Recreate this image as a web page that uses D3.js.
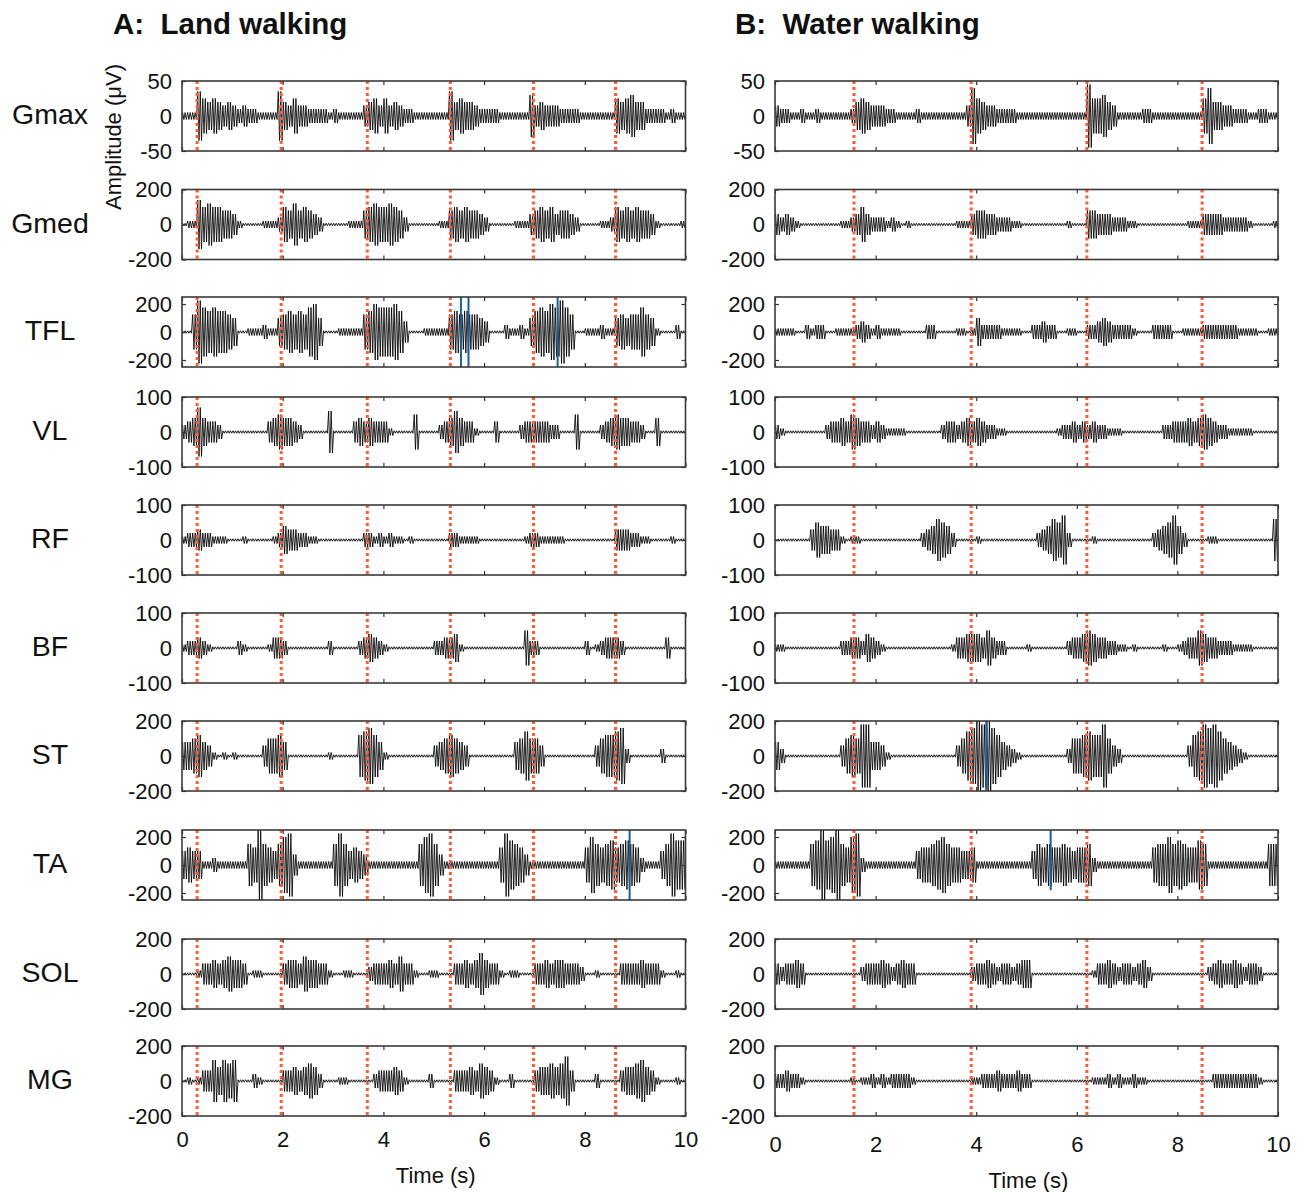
<!DOCTYPE html>
<html>
<head>
<meta charset="utf-8">
<script src="https://cdn.jsdelivr.net/npm/d3@7"></script>
<style>
body { margin: 0; background: #fff; }
text { font-family: "Liberation Sans", Arial, Helvetica, sans-serif; fill: #111; }
</style>
</head>
<body>
<svg id="chart" width="1307" height="1192"></svg>
<script>
// muscles, top to bottom
var muscles = ["Gmax", "Gmed", "TFL", "VL", "RF", "BF", "ST", "TA", "SOL", "MG"];
// y axis limit (uV) of each panel, and its tick labels
var limits = [50, 200, 250, 100, 100, 100, 200, 250, 200, 200];
var yTicks = [[-50, 0, 50], [-200, 0, 200], [-200, 0, 200], [-100, 0, 100], [-100, 0, 100],
              [-100, 0, 100], [-200, 0, 200], [-200, 0, 200], [-200, 0, 200], [-200, 0, 200]];
var xTicks = [0, 2, 4, 6, 8, 10];

// heel strikes (s), orange dotted lines
var landStrikes = [0.30, 1.97, 3.68, 5.33, 6.98, 8.61];
var waterStrikes = [1.57, 3.90, 6.20, 8.49];

// EMG envelope: one char per 0.1 s, value = tenths of the axis limit ("x" = full)
var landEMG = [
  "1117545434 3232211117 4353322221 2111113453 5343221111 1117454432 2221111116 3433322221 1111115456 4422221211",
  "0117565544 3100001112 5464543200 0001114565 5654200000 0114545443 2000001113 4545344320 0001125454 5443100001",
  "0059767665 4001112114 5656578400 0111115687 7786300011 1115656554 3000211214 6768797500 1112114545 5754100020",
  "2347433200 0000000345 4432000006 0000343433 3100005000 0234643310 0030000233 3332200050 0002345443 3200400000",
  "1223221110 0010000012 4332211000 0000002212 1211010000 0002211110 0000000012 2111110000 0000003332 2110000100",
  "1223210000 0210000133 2000000002 0000023432 1000000000 2233410000 0000000052 2000000000 2012333200 0000003000",
  "4456431010 1000003556 4000000001 0000067864 1000000000 3456543000 0000004575 5300000000 0035667820 0000020000",
  "4544112111 11165x6546 8931111111 6964543111 1111111689 6311111111 1115976531 1111111111 5865675676 5211146977",
  "0001334345 4430110000 3443544331 0011000233 3435331001 1000334346 4331011000 3343443332 0010000333 3433310010",
  "0101336465 6000210000 3343454200 0110000023 3343100002 0000333435 4310020000 3445457300 0020000344 5643100010"
];
var waterEMG = [
  "3221121121 1111124543 3322111121 1111111138 5433222211 1111111111 1195564311 1112211111 1111158443 3222112211",
  "3232100000 0001123532 2212101000 0000001113 4433222110 0000000010 0044333222 1100000000 0011133332 2222100001",
  "1111002122 0011112321 2111100000 2200001101 4222211110 0223220011 0022343222 2100022220 0111122222 2211110011",
  "2100000000 2334354332 3211110000 0002332343 4322110000 0000001223 2323221110 0000000223 3343454322 1111100000",
  "0000000354 4331011000 0000000002 3465420000 1000000000 0023465720 0001000000 0000023457 4200001100 0000000006",
  "1100000000 0002233243 2100000000 0000013344 4353220000 1000000023 3454332211 0100000100 1233543322 2111100000",
  "4200000000 0003565994 4310000000 0000003578 x9x8643210 0000000025 5676695320 0000000000 0036798975 4321000000",
  "111111167x 78x6589211 1111111145 5678655445 1111111111 1465655654 5562111111 1111156686 7655761111 1111111166",
  "3233430000 0000000233 3432343300 0000000002 3343233234 4000000000 0001334323 3234200000 0000002343 3432332000",
  "2232210000 0000010112 1212222100 0000000001 1222322232 2000000000 0001112121 1211000000 0000000222 2222221000"
];

// blue artefact spikes: muscle index, time (s), low and high (uV)
var landSpikes = [
  {m: 2, t: 5.54, lo: -300, hi: 300},
  {m: 2, t: 5.69, lo: -300, hi: 300},
  {m: 2, t: 7.46, lo: -300, hi: 300},
  {m: 7, t: 8.89, lo: -300, hi: 300}
];
var waterSpikes = [
  {m: 6, t: 4.20, lo: -250, hi: 250},
  {m: 7, t: 5.48, lo: -180, hi: 300}
];

var svg = d3.select("#chart");

var colLeft = [182, 775],
    colWidth = [503.5, 503],
    rowTop = [81, 189.5, 297, 397, 505, 613, 721, 830, 939, 1046],
    panelH = 70,
    perBin = 4;   // zigzag vertices drawn per envelope sample

var conditions = [
  {title: "A:  Land walking", titleX: 113, emg: landEMG, strikes: landStrikes, spikes: landSpikes, xPad: 15, xLabelY: 1183},
  {title: "B:  Water walking", titleX: 735, emg: waterEMG, strikes: waterStrikes, spikes: waterSpikes, xPad: 20, xLabelY: 1188}
];

function parseEnv(s) {
  return s.replace(/\s/g, "").split("").map(function(ch) { return ch === "x" ? 10 : +ch; });
}

var defs = svg.append("defs");

conditions.forEach(function(cond, c) {
  var x = d3.scaleLinear().domain([0, 10]).range([colLeft[c], colLeft[c] + colWidth[c]]);

  svg.append("text")
      .attr("x", cond.titleX)
      .attr("y", 34)
      .style("font-size", "29.5px")
      .style("font-weight", "bold")
      .style("white-space", "pre")
      .text(cond.title);

  muscles.forEach(function(name, i) {
    var lim = limits[i],
        top = rowTop[i];
    var y = d3.scaleLinear().domain([-lim, lim]).range([top + panelH, top]);

    var clipId = "clip" + c + "_" + i;
    defs.append("clipPath").attr("id", clipId)
      .append("rect")
        .attr("x", x(0)).attr("y", top)
        .attr("width", colWidth[c]).attr("height", panelH);

    var g = svg.append("g").attr("class", "panel");

    // EMG trace drawn as a dense min/max zigzag of the envelope
    var env = parseEnv(cond.emg[i]),
        dt = 10 / env.length,
        pts = [];
    env.forEach(function(d, k) {
      var a = Math.max(d / 10, 0.035) * lim;
      for (var j = 0; j < perBin; j++) {
        pts.push([k * dt + dt * (j + 0.5) / perBin, j % 2 ? -a : a]);
      }
    });

    var line = d3.line()
        .x(function(d) { return x(d[0]); })
        .y(function(d) { return y(d[1]); });

    g.append("path")
        .datum(pts)
        .attr("clip-path", "url(#" + clipId + ")")
        .attr("fill", "none")
        .attr("stroke", "#000")
        .attr("stroke-width", 0.85)
        .attr("d", line);

    // blue spikes
    g.selectAll(".spike")
      .data(cond.spikes.filter(function(s) { return s.m === i; }))
      .enter().append("line")
        .attr("clip-path", "url(#" + clipId + ")")
        .attr("x1", function(s) { return x(s.t); })
        .attr("x2", function(s) { return x(s.t); })
        .attr("y1", function(s) { return y(s.hi); })
        .attr("y2", function(s) { return y(s.lo); })
        .attr("stroke", "#1a5e9e")
        .attr("stroke-width", 2);

    // heel strike markers
    g.selectAll(".strike")
      .data(cond.strikes)
      .enter().append("line")
        .attr("x1", function(t) { return x(t); })
        .attr("x2", function(t) { return x(t); })
        .attr("y1", top)
        .attr("y2", top + panelH)
        .attr("stroke", "#ff5b36")
        .attr("stroke-width", 3)
        .attr("stroke-dasharray", "3,3");

    // axes, MATLAB style ticks pointing inward on all four sides
    g.append("g")
        .attr("transform", "translate(" + x(0) + ",0)")
        .call(d3.axisLeft(y).tickValues(yTicks[i]).tickSize(-4).tickPadding(10)
          .tickFormat(function(d) { return String(d); }))
        .call(function(a) { a.select(".domain").remove(); a.selectAll("text").style("font-size", "22px").attr("fill", "#111"); });
    g.append("g")
        .attr("transform", "translate(" + x(10) + ",0)")
        .call(d3.axisRight(y).tickValues(yTicks[i]).tickSize(-4).tickFormat(""))
        .call(function(a) { a.select(".domain").remove(); });
    g.append("g")
        .attr("transform", "translate(0," + top + ")")
        .call(d3.axisTop(x).tickValues(xTicks).tickSize(-4).tickFormat(""))
        .call(function(a) { a.select(".domain").remove(); });
    var bottom = g.append("g")
        .attr("transform", "translate(0," + (top + panelH) + ")")
        .call(d3.axisBottom(x).tickValues(xTicks).tickSize(-4).tickPadding(cond.xPad)
          .tickFormat(i === muscles.length - 1 ? function(d) { return String(d); } : ""));
    bottom.select(".domain").remove();
    bottom.selectAll("text").style("font-size", "22px").attr("fill", "#111");
    g.selectAll(".tick line").attr("stroke", "#333").attr("stroke-width", 1.2);

    g.append("rect")
        .attr("x", x(0)).attr("y", top)
        .attr("width", colWidth[c]).attr("height", panelH)
        .attr("fill", "none")
        .attr("stroke", "#3a3a3a")
        .attr("stroke-width", 1.6);

    if (c === 0) {
      svg.append("text")
          .attr("x", 50)
          .attr("y", y(0) - 2)
          .attr("dy", "0.36em")
          .attr("text-anchor", "middle")
          .style("font-size", "28.5px")
          .text(name);
    }
  });

  svg.append("text")
      .attr("x", x(5) + 2)
      .attr("y", cond.xLabelY)
      .attr("text-anchor", "middle")
      .style("font-size", "22px")
      .text("Time (s)");
});

svg.append("text")
    .attr("transform", "translate(121,137) rotate(-90)")
    .attr("text-anchor", "middle")
    .style("font-size", "22px")
    .text("Amplitude (μV)");
</script>
</body>
</html>
